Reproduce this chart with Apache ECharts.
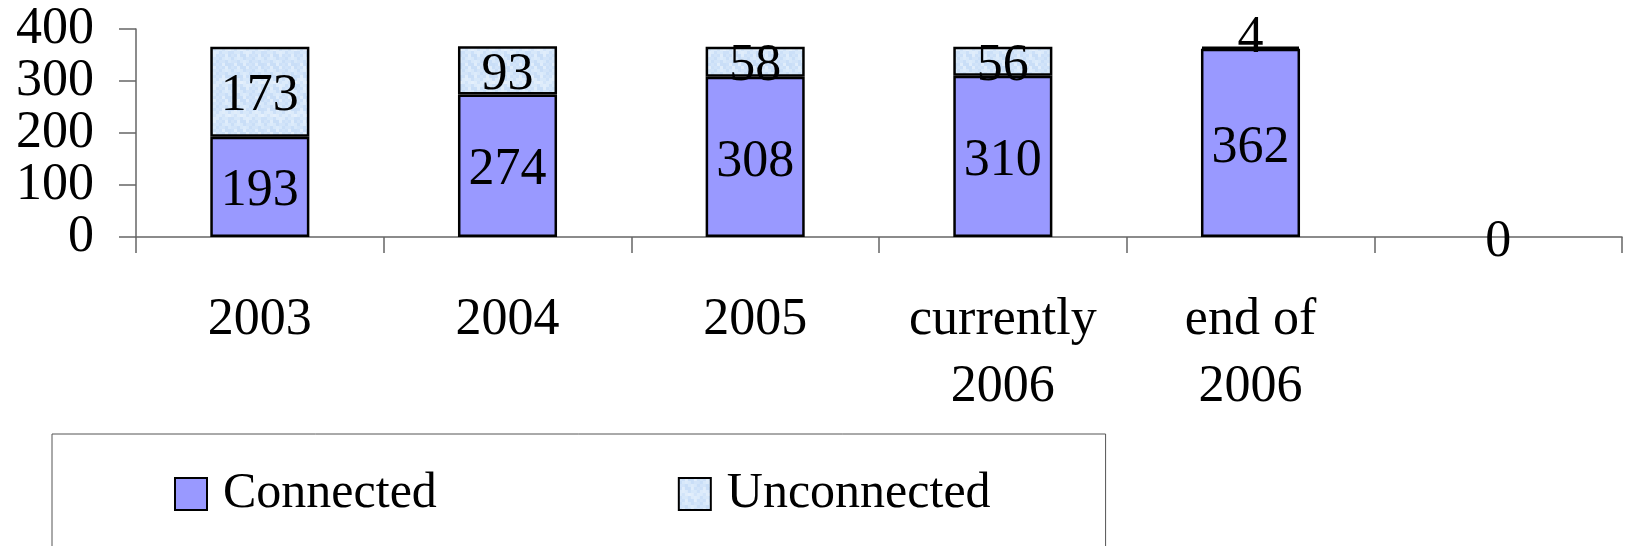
<!DOCTYPE html>
<html>
<head>
<meta charset="utf-8">
<script src="https://cdn.jsdelivr.net/npm/echarts@6/dist/echarts.min.js"></script>
<style>
html,body{margin:0;padding:0;background:#fff;}
#chart{width:1627px;height:546px;}
</style>
</head>
<body>
<div id="chart"></div>
<script>
const categories = ['2003', '2004', '2005', 'currently\n2006', 'end of\n2006', ''];
const connected = [193, 274, 308, 310, 362, 0];
const unconnected = [173, 93, 58, 56, 4, null];
const yTicks = { min: 0, max: 400, interval: 100 };

const FONT = 'Liberation Serif';

// speckled light-blue fill texture (deterministic)
const shades = ['#D2E4F9', '#DCEBFB', '#E5F0FC', '#CCE0F8', '#D7E8FA', '#E0EDFB', '#C9DEF7'];
const tex = document.createElement('canvas');
tex.width = 33; tex.height = 33;
const tctx = tex.getContext('2d');
for (let gx = 0; gx < 11; gx++) {
  for (let gy = 0; gy < 11; gy++) {
    tctx.fillStyle = shades[(gx * gx * 3 + gy * 5 + gx * gy * 2 + gy * gy) % shades.length];
    tctx.fillRect(gx * 3, gy * 3, 3, 3);
  }
}

const chart = echarts.init(document.getElementById('chart'), null, { renderer: 'canvas' });

const labelStyle = {
  show: true,
  position: 'inside',
  fontFamily: FONT,
  fontSize: 52,
  color: '#000',
  offset: [0, 5]
};

chart.setOption({
  backgroundColor: '#fff',
  animation: false,
  grid: { left: 136, right: 5, top: 29, bottom: 309, containLabel: false },
  legend: {
    left: 52,
    top: 434,
    padding: [35, 115, 90, 122],
    borderColor: '#555',
    borderWidth: 1,
    itemWidth: 32,
    itemHeight: 32,
    itemGap: 241,
    icon: 'rect',
    textStyle: { fontFamily: FONT, fontSize: 50, color: '#000', padding: [0, 0, 0, 11] },
    data: ['Connected', 'Unconnected']
  },
  xAxis: {
    type: 'category',
    data: categories,
    axisLine: { show: true, lineStyle: { color: '#666', width: 1.5 } },
    axisTick: { show: true, length: 16, lineStyle: { color: '#666', width: 1.5 } },
    axisLabel: {
      interval: 0,
      margin: 50,
      fontFamily: FONT,
      fontSize: 52,
      lineHeight: 67,
      color: '#000'
    }
  },
  yAxis: {
    type: 'value',
    min: yTicks.min,
    max: yTicks.max,
    interval: yTicks.interval,
    splitLine: { show: false },
    axisLine: { show: true, lineStyle: { color: '#666', width: 1.5 } },
    axisTick: { show: true, length: 17, lineStyle: { color: '#666', width: 1.5 } },
    axisLabel: { margin: 42, fontFamily: FONT, fontSize: 52, color: '#000' }
  },
  series: [
    {
      name: 'Connected',
      type: 'bar',
      stack: 'total',
      barWidth: '40%',
      data: connected.map(v => v === 0 ? { value: v, itemStyle: { borderWidth: 0 } } : v),
      itemStyle: { color: '#9999FF', borderColor: '#000', borderWidth: 2.5 },
      label: labelStyle
    },
    {
      name: 'Unconnected',
      type: 'bar',
      stack: 'total',
      barWidth: '40%',
      data: unconnected.map(v => (v !== null && v < 10) ? { value: v, label: { offset: [0, -9] } } : v),
      itemStyle: { color: { image: tex, repeat: 'repeat' }, borderColor: '#000', borderWidth: 2.5 },
      label: labelStyle
    }
  ]
});
</script>
</body>
</html>
